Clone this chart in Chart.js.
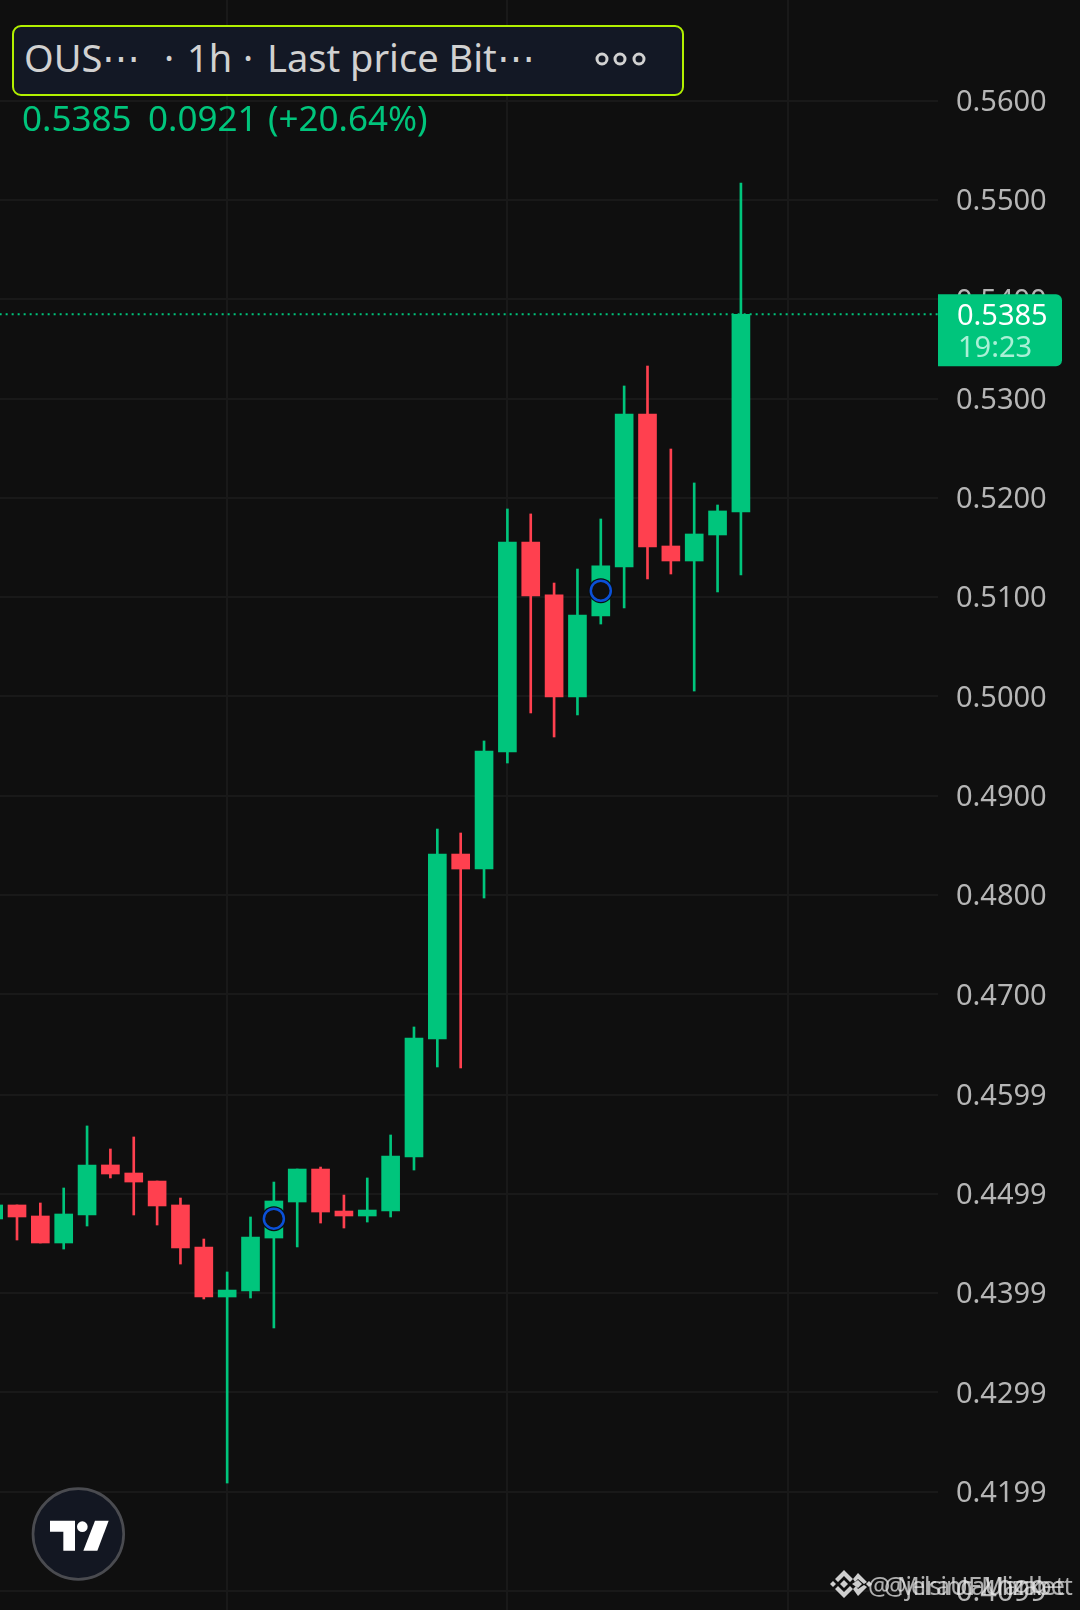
<!DOCTYPE html>
<html lang="en">
<head>
    <meta charset="UTF-8">
    <title>OUS 1h Last price</title>
    <script src="https://cdn.jsdelivr.net/npm/chart.js"></script>
    <style>
        html, body { margin: 0; padding: 0; background: #0f0f0f; }
        body { position: relative; width: 1080px; height: 1610px; overflow: hidden; font-family: "Noto Sans", sans-serif; }
        canvas { position: absolute; left: 0; top: 0; }
        .abs { position: absolute; white-space: pre; line-height: 1; }
        #headerBox { left: 12px; top: 25px; width: 668px; height: 67px; background: #131825; border: 2px solid #b2f000; border-radius: 9px; }
        .head { color: #d1d1d1; font-size: 38px; top: 38px; }
        .val { color: #00c57c; font-size: 35px; top: 100px; }
        .mark { color: #e6e6e6; font-size: 25px; left: 868px; top: 1573px; opacity: 0.75; }
    </style>
</head>
<body>
    <canvas id="chart" width="1080" height="1610"></canvas>

    <div id="headerBox" class="abs"></div>
    <div class="abs head" style="left:24px">OUS⋯</div>
    <div class="abs head" style="left:164px">·</div>
    <div class="abs head" style="left:187px">1h</div>
    <div class="abs head" style="left:243px">·</div>
    <div class="abs head" style="left:267px">Last price Bit⋯</div>
    <svg class="abs" style="left:593px;top:44px" width="60" height="30">
        <g fill="none" stroke="#d1d1d1" stroke-width="3">
            <circle cx="9" cy="15" r="5"/><circle cx="27" cy="15" r="5"/><circle cx="46" cy="15" r="5"/>
        </g>
    </svg>
    <div class="abs val" style="left:22px">0.5385</div>
    <div class="abs val" style="left:148px">0.0921</div>
    <div class="abs val" style="left:268px">(+20.64%)</div>

    <!-- tv logo -->
    <svg class="abs" style="left:0;top:1460px" width="200" height="150" viewBox="0 0 600 450">
        <circle cx="235" cy="222" r="136" fill="#131722" stroke="#4a4b50" stroke-width="8"/>
        <polygon fill="#fff" points="150,182 225,182 225,272 190,272 190,215 150,215"/>
        <circle fill="#fff" cx="247" cy="200" r="16"/>
        <polygon fill="#fff" points="285,182 326,182 292,272 250,272"/>
    </svg>

    <!-- watermark, two layers on top of each other -->
    <svg class="abs" style="left:830px;top:1570px" width="44" height="28" viewBox="0 0 44 28">
        <g fill="#cfcfcf" id="bnb">
            <polygon points="0,14 3,11 6,14 3,17"/>
            <polygon points="10,14 14,10 18,14 14,18"/>
            <polygon points="5,9 14,0 23,9 20,12 14,6 8,12"/>
            <polygon points="5,19 8,16 14,22 20,16 23,19 14,28"/>
            <polygon points="23,9 28,3 37,12 34,14 28,9 25,12"/>
            <polygon points="22,14 28,10 32,14 28,18"/>
            <polygon points="23,19 26,16 28,19 34,15 37,17 28,26"/>
            <polygon points="36,14 39,11 42,14 39,17"/>
        </g>
    </svg>
    <div class="abs mark">@ MiraUFMarket</div>
    <div class="abs mark" style="left:884px;letter-spacing:-1px">@jelsincaUlizabet</div>

    <script>
        const candleSlots = [0,1,2,3,4,5,6,7,8,9,10,11,12,13,14,15,16,17,18,19,20,21,22,23,24,25,26,27,28,29,30,31,32];
        const openPrices = [.44737,.44878,.44767,.44495,.44777,.45281,.452,.45119,.44878,.44455,.43951,.44011,.44545,.44908,.4524,.44817,.44767,.44817,.45361,.4655,.48413,.48262,.49441,.51556,.51023,.49995,.50811,.51305,.52846,.51516,.51365,.51627,.51859];
        const highPrices = [.44878,.44878,.44898,.45049,.45674,.45442,.45563,.45119,.44948,.44535,.44203,.44757,.45109,.4524,.4526,.44978,.4515,.45583,.46671,.48665,.48625,.49552,.51889,.51839,.51143,.51284,.51788,.53128,.53329,.52493,.52151,.51929,.55173];
        const lowPrices = [.44737,.44525,.44495,.44434,.44666,.4515,.44777,.44676,.44283,.43931,.42077,.43941,.43639,.44455,.44696,.44646,.44706,.44757,.4523,.46268,.46258,.4797,.4933,.49834,.49592,.49814,.5073,.50892,.51184,.51234,.50055,.51053,.51224];
        const closePrices = [.44878,.44757,.44495,.44787,.45281,.4519,.45109,.44868,.44445,.43951,.44021,.44555,.44918,.4524,.44807,.44767,.44827,.45371,.4656,.48413,.48262,.49451,.51556,.51012,.49995,.50821,.51315,.52846,.51506,.51365,.51637,.51869,.5385];

        const priceTicks = [.56,.55,.54,.53,.52,.51,.50,.49,.48,.47,.4599,.4499,.4399,.4299,.4199,.4099];
        const timeGridSlots = [10,22,34];

        const lastPrice = 0.5385;
        const lastPriceTimer = '19:23';
        const markerSlots = [12,26];
        const markerPrices = [0.4474,0.51066];

        const upColor = '#00c57c';
        const downColor = '#ff404f';
        const candleColors = candleSlots.map((s, i) => closePrices[i] >= openPrices[i] ? upColor : downColor);

        // tag on the price axis for the last price
        const lastPriceTag = {
            id: 'lastPriceTag',
            afterDraw(chart) {
                const ctx = chart.ctx;
                const y = chart.scales.y.getPixelForValue(lastPrice);
                const x = chart.chartArea.right;
                ctx.save();
                ctx.fillStyle = upColor;
                ctx.beginPath();
                ctx.roundRect(x, y - 20, 124, 72, [0, 6, 6, 0]);
                ctx.fill();
                ctx.font = '29px "Noto Sans"';
                ctx.textBaseline = 'middle';
                ctx.fillStyle = '#ffffff';
                ctx.fillText(lastPrice.toFixed(4), x + 19, y + 2);
                ctx.fillStyle = '#a9f0d6';
                ctx.fillText(lastPriceTimer, x + 20, y + 34);
                ctx.restore();
            }
        };

        // no insets from labels, the plot runs to the canvas edges
        function noPadding(scale) {
            scale.paddingLeft = scale.paddingRight = scale.paddingTop = scale.paddingBottom = 0;
        }

        new Chart(document.getElementById('chart').getContext('2d'), {
            type: 'bar',
            plugins: [lastPriceTag],
            data: {
                datasets: [
                    {
                        type: 'line',
                        label: 'Marker halo',
                        data: markerSlots.map((s, i) => ({ x: s, y: markerPrices[i] })),
                        showLine: false,
                        pointRadius: 12.5,
                        pointBackgroundColor: '#0a0f10',
                        pointBorderWidth: 0,
                        order: 1
                    },
                    {
                        type: 'line',
                        label: 'Marker',
                        data: markerSlots.map((s, i) => ({ x: s, y: markerPrices[i] })),
                        showLine: false,
                        pointRadius: 10,
                        pointBackgroundColor: '#0f0f0f',
                        pointBorderColor: '#0b50d8',
                        pointBorderWidth: 2.5,
                        order: 0
                    },
                    {
                        type: 'line',
                        label: 'Last price',
                        data: [{ x: 0, y: lastPrice }, { x: 41, y: lastPrice }],
                        borderColor: upColor,
                        borderWidth: 2,
                        borderDash: [2, 4],
                        pointRadius: 0,
                        order: 2
                    },
                    {
                        label: 'Body',
                        data: candleSlots.map((s, i) => ({ x: s, y: [openPrices[i], closePrices[i]] })),
                        backgroundColor: candleColors,
                        barThickness: 18,
                        grouped: false,
                        order: 3
                    },
                    {
                        label: 'Wick',
                        data: candleSlots.map((s, i) => ({ x: s, y: [lowPrices[i], highPrices[i]] })),
                        backgroundColor: candleColors,
                        barThickness: 2,
                        grouped: false,
                        order: 4
                    }
                ]
            },
            options: {
                responsive: false,
                animation: false,
                events: [],
                layout: { autoPadding: false, padding: 0 },
                plugins: { legend: { display: false }, tooltip: { enabled: false } },
                scales: {
                    x: {
                        type: 'linear',
                        offset: false,
                        min: 0.272,
                        max: 40.44,
                        border: { display: false },
                        grid: { color: '#191919', lineWidth: 2, drawTicks: false, offset: false },
                        ticks: { display: false },
                        afterBuildTicks(scale) { scale.ticks = timeGridSlots.map(v => ({ value: v })); },
                        afterFit(scale) { scale.height = 0; noPadding(scale); }
                    },
                    y: {
                        position: 'right',
                        min: 0.40798,
                        max: 0.57016,
                        border: { display: false },
                        grid: { color: '#191919', lineWidth: 2, drawTicks: false },
                        ticks: {
                            color: '#b6b6b6',
                            font: { family: '"Noto Sans"', size: 29 },
                            padding: 18,
                            labelOffset: 2,
                            autoSkip: false,
                            callback: v => v.toFixed(4)
                        },
                        afterBuildTicks(scale) { scale.ticks = priceTicks.map(v => ({ value: v })); },
                        afterFit(scale) { scale.width = 142; noPadding(scale); }
                    }
                }
            }
        });
    </script>
</body>
</html>
